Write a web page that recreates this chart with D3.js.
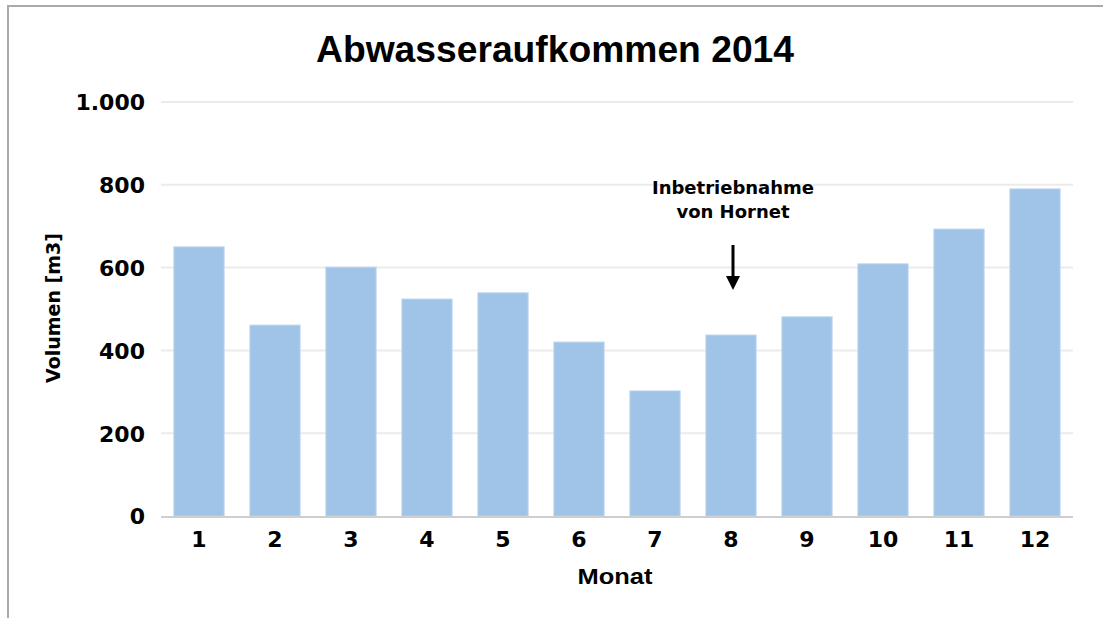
<!DOCTYPE html>
<html>
<head>
<meta charset="utf-8">
<script src="https://cdn.jsdelivr.net/npm/d3@7"></script>
<style>
body { margin: 0; background: #fff; }
text { fill: #000; }
</style>
</head>
<body>
<div id="chart"></div>
<script>
var width = 1103;
var height = 618;

// Daten
var monate = ["1", "2", "3", "4", "5", "6", "7", "8", "9", "10", "11", "12"];
var volumen = [650, 461, 601, 524, 539, 420, 302, 437, 481, 609, 693, 790];
var yTicks = [0, 200, 400, 600, 800, 1000];
var yTickLabels = ["0", "200", "400", "600", "800", "1.000"];

var plotLeft = 161, plotRight = 1073, plotTop = 102, plotBottom = 516;

var svg = d3.select("#chart")
			.append("svg")
			.attr("width", width)
			.attr("height", height);

// Rahmen
svg.append("path")
	.attr("d", "M8," + height + " V6 H" + width)
	.attr("fill", "none")
	.attr("stroke", "#aaa")
	.attr("stroke-width", 2);

var x = d3.scaleBand()
		.domain(monate)
		.range([plotLeft, plotRight])
		.paddingInner(0.34)
		.paddingOuter(0.17);

var y = d3.scaleLinear()
		.domain([0, 1000])
		.range([plotBottom, plotTop]);

// Gitterlinien
svg.append("g")
	.selectAll("line")
	.data(yTicks.slice(1))
	.enter().append("line")
	.attr("x1", plotLeft)
	.attr("x2", plotRight)
	.attr("y1", function(d) { return y(d); })
	.attr("y2", function(d) { return y(d); })
	.attr("stroke", "#ebebeb")
	.attr("stroke-width", 2);

// Balken
svg.append("g")
	.selectAll("rect")
	.data(volumen)
	.enter().append("rect")
	.attr("x", function(d, i) { return x(monate[i]); })
	.attr("y", function(d) { return y(d); })
	.attr("width", x.bandwidth())
	.attr("height", function(d) { return y(0) - y(d); })
	.attr("fill", "#a0c3e8")
	.attr("stroke", "#b8d3ee")
	.attr("stroke-width", 1);

// Grundlinie
svg.append("line")
	.attr("x1", plotLeft)
	.attr("x2", plotRight)
	.attr("y1", y(0) + 1)
	.attr("y2", y(0) + 1)
	.attr("stroke", "#cfcfcf")
	.attr("stroke-width", 2);

var fontWide = "'DejaVu Sans', sans-serif";

// Y-Achse
var yAxis = d3.axisLeft(y)
		.tickValues(yTicks)
		.tickSize(0)
		.tickPadding(0)
		.tickFormat(function(d, i) { return yTickLabels[i]; });

var gy = svg.append("g")
	.attr("transform", "translate(145,0)")
	.call(yAxis);
gy.select(".domain").remove();
gy.selectAll("text")
	.attr("font-family", fontWide)
	.attr("font-weight", "bold")
	.attr("font-size", 22)
	.attr("fill", "#000")
	.attr("dy", "0.36em");

// X-Achse
var xAxis = d3.axisBottom(x).tickSize(0).tickPadding(0);
var gx = svg.append("g")
	.attr("transform", "translate(0,531)")
	.call(xAxis);
gx.select(".domain").remove();
gx.selectAll("text")
	.attr("font-family", fontWide)
	.attr("font-weight", "bold")
	.attr("font-size", 22)
	.attr("fill", "#000")
	.attr("dy", "0.71em");

// Titel
svg.append("text")
	.attr("x", 555)
	.attr("y", 62)
	.attr("text-anchor", "middle")
	.attr("font-family", "'Liberation Sans', sans-serif")
	.attr("font-weight", "bold")
	.attr("font-size", 36)
	.attr("textLength", 478)
	.attr("lengthAdjust", "spacingAndGlyphs")
	.text("Abwasseraufkommen 2014");

// Achsentitel
svg.append("text")
	.attr("x", 615)
	.attr("y", 584)
	.attr("text-anchor", "middle")
	.attr("font-family", "'Liberation Sans', sans-serif")
	.attr("font-weight", "bold")
	.attr("font-size", 22)
	.attr("textLength", 75)
	.attr("lengthAdjust", "spacingAndGlyphs")
	.text("Monat");

svg.append("text")
	.attr("transform", "translate(60,308) rotate(-90)")
	.attr("text-anchor", "middle")
	.attr("font-family", fontWide)
	.attr("font-weight", "bold")
	.attr("font-size", 19)
	.text("Volumen [m3]");

// Annotation
var ax = x("8") + x.bandwidth() / 2 + 2;
var anno = svg.append("text")
	.attr("x", ax)
	.attr("y", 194)
	.attr("text-anchor", "middle")
	.attr("font-family", fontWide)
	.attr("font-weight", "bold")
	.attr("font-size", 18);
anno.append("tspan").attr("x", ax).attr("dy", 0).text("Inbetriebnahme");
anno.append("tspan").attr("x", ax).attr("dy", 24).text("von Hornet");

svg.append("line")
	.attr("x1", ax)
	.attr("x2", ax)
	.attr("y1", 245)
	.attr("y2", 278)
	.attr("stroke", "#000")
	.attr("stroke-width", 3);
svg.append("path")
	.attr("d", "M" + (ax - 7) + ",276 L" + (ax + 7) + ",276 L" + ax + ",290 Z")
	.attr("fill", "#000");
</script>
</body>
</html>
